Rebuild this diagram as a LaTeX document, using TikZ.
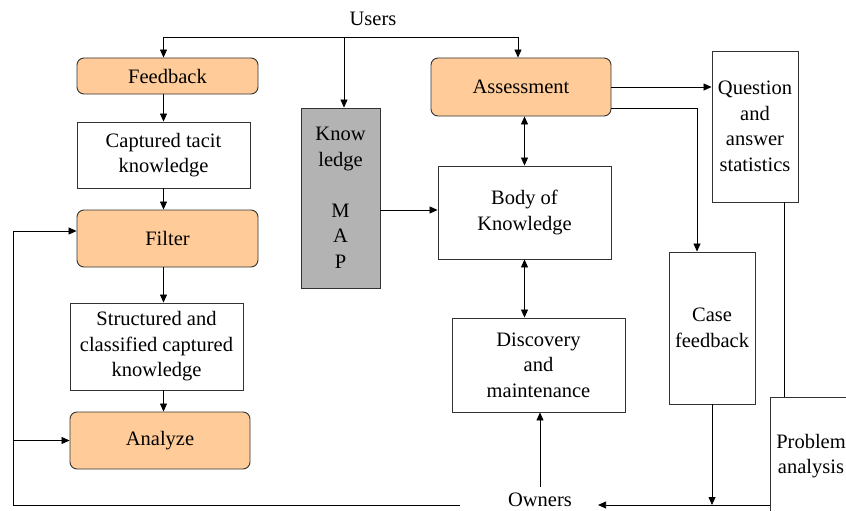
\documentclass[tikz,border=0pt]{standalone}
\usepackage{fontspec}
\setmainfont{Liberation Serif}
\newfontfamily\tnr{Liberation Serif}
\usetikzlibrary{arrows.meta,calc,positioning}
\definecolor{peach}{HTML}{FFCC99}
\definecolor{mapgray}{HTML}{B3B3B3}
\definecolor{edge}{HTML}{333333}
\begin{document}
\begin{tikzpicture}[x=1pt,y=-1pt,
every node/.style={font=\tnr\fontsize{20.5}{25.5}\selectfont,align=center,inner sep=0pt},
box/.style={draw=edge,line width=0.9pt,fill=white},
rbox/.style={box,fill=peach,rounded corners=7pt},
arr/.style={-{Triangle[length=8pt,width=7pt]},line width=0.8pt},
darr/.style={{Triangle[length=8pt,width=7pt]}-{Triangle[length=8pt,width=7pt]},line width=0.8pt}]
\useasboundingbox (0,0) rectangle (846,511);
\clip (0,0) rectangle (846,511);
\node (users) at (373,19) {Users};
\node[rbox,minimum width=181,minimum height=36] (feed) at (167.5,76) {Feedback};
\node[box,minimum width=173,minimum height=66] (tacit) at (163.5,155) {Captured tacit\\knowledge};
\node[rbox,minimum width=181,minimum height=57] (filter) at (167.5,238.5) {Filter};
\node[box,minimum width=173,minimum height=87] (struct) at (156.5,346.5) {Structured and\\classified captured\\knowledge};
\node[rbox,minimum width=180,minimum height=57] (analyze) at (160,440.5) {Analyze};
\node[box,fill=mapgray,minimum width=79,minimum height=180] (kmap) at (340.5,198) {Know\\ledge\\[25.5pt]M\\A\\P};
\node[rbox,minimum width=180,minimum height=58] (assess) at (521,87) {Assessment};
\node[box,minimum width=173,minimum height=93] (body) at (524.5,212.5) {Body of\\Knowledge};
\node[box,minimum width=173,minimum height=94] (disc) at (538.5,365) {Discovery\\and\\maintenance};
\node[box,minimum width=86,minimum height=151] (quest) at (755,126.5) {Question\\and\\answer\\statistics};
\node[box,minimum width=86,minimum height=152] (case) at (712,328) {Case\\feedback};
\node[box,minimum width=82,minimum height=118] (prob) at (811,456) {Problem\\analysis};
\node (owners) at (540,500) {Owners};
\coordinate (ubus) at (344,37);
\coordinate (lcorner) at (13,505);
\draw[arr] (ubus) -| (feed.north -| tacit.north);
\draw[arr] (ubus) -| ([xshift=-3]assess.north);
\draw[arr] (ubus) -- (ubus |- kmap.north);
\draw[arr] (feed.south -| tacit.north) -- (tacit);
\draw[arr] (tacit) -- (filter.north -| tacit.north);
\draw[arr] (filter.south -| tacit.south) -- (struct.north -| tacit.south);
\draw[arr] (struct.south -| tacit.south) -- (analyze.north -| tacit.south);
\draw[arr] ([yshift=-12]kmap.east) -- ([yshift=-12]kmap.east -| body.west);
\draw[arr] (assess.east) -- (assess.east -| quest.west);
\draw[arr] ([yshift=-21]assess.east) -| ([xshift=-15]case.north);
\draw[darr] (assess.south -| body.north) -- (body.north);
\draw[darr] (body.south) -- (disc.north -| body.south);
\draw[arr] ([yshift=6]owners.north) -- (owners.north |- disc.south);
\draw[line width=0.8pt] ([xshift=29]quest.south) coordinate (qs) -- (qs |- prob.north);
\draw[arr] (prob.west |- lcorner) -- ([xshift=26]owners.east |- lcorner);
\draw[arr] (case.south) -- (case.south |- lcorner);
\draw[arr] ([xshift=-48]owners.west |- lcorner) -- (lcorner) |- ([yshift=7.5]filter.west);
\draw[arr] (lcorner |- analyze.west) -- (analyze.west);
\end{tikzpicture}
\end{document}
